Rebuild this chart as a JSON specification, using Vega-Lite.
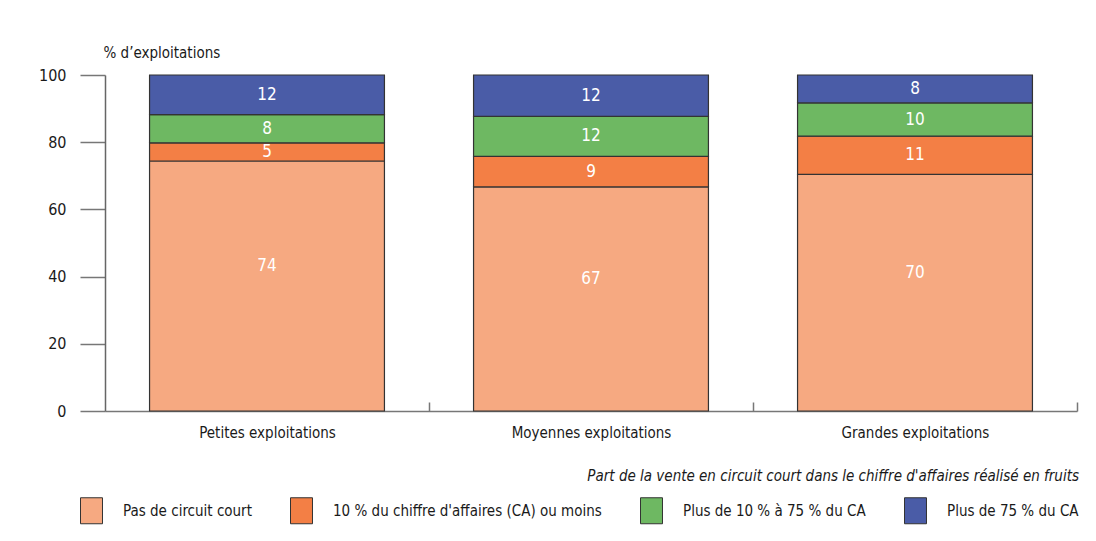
{
  "$schema": "https://vega.github.io/schema/vega-lite/v6.json",
  "width": 972,
  "height": 336,
  "autosize": {"type": "none"},
  "padding": {"left": 105, "top": 75, "right": 19, "bottom": 130},
  "background": "white",
  "config": {
    "font": "'DejaVu Sans Condensed', 'Roboto Condensed', sans-serif",
    "view": {"stroke": null},
    "axis": {
      "labelFont": "'DejaVu Sans Condensed', 'Roboto Condensed', sans-serif",
      "titleFont": "'DejaVu Sans Condensed', 'Roboto Condensed', sans-serif",
      "labelColor": "#1a1a1a",
      "titleColor": "#1a1a1a",
      "labelFontSize": 15,
      "domainColor": "#777777",
      "tickColor": "#777777",
      "domainWidth": 1.5,
      "tickWidth": 1.5,
      "grid": false
    },
    "legend": {
      "labelFont": "'DejaVu Sans Condensed', 'Roboto Condensed', sans-serif",
      "titleFont": "'DejaVu Sans Condensed', 'Roboto Condensed', sans-serif"
    }
  },
  "data": {
    "values": [
      {"taille": "Petites exploitations", "circuit": "Pas de circuit court", "ordre": 1, "pct": 74.4},
      {"taille": "Petites exploitations", "circuit": "10 % du chiffre d'affaires (CA) ou moins", "ordre": 2, "pct": 5.4},
      {"taille": "Petites exploitations", "circuit": "Plus de 10 % à 75 % du CA", "ordre": 3, "pct": 8.4},
      {"taille": "Petites exploitations", "circuit": "Plus de 75 % du CA", "ordre": 4, "pct": 11.8},
      {"taille": "Moyennes exploitations", "circuit": "Pas de circuit court", "ordre": 1, "pct": 66.7},
      {"taille": "Moyennes exploitations", "circuit": "10 % du chiffre d'affaires (CA) ou moins", "ordre": 2, "pct": 9.1},
      {"taille": "Moyennes exploitations", "circuit": "Plus de 10 % à 75 % du CA", "ordre": 3, "pct": 11.9},
      {"taille": "Moyennes exploitations", "circuit": "Plus de 75 % du CA", "ordre": 4, "pct": 12.3},
      {"taille": "Grandes exploitations", "circuit": "Pas de circuit court", "ordre": 1, "pct": 70.4},
      {"taille": "Grandes exploitations", "circuit": "10 % du chiffre d'affaires (CA) ou moins", "ordre": 2, "pct": 11.4},
      {"taille": "Grandes exploitations", "circuit": "Plus de 10 % à 75 % du CA", "ordre": 3, "pct": 9.9},
      {"taille": "Grandes exploitations", "circuit": "Plus de 75 % du CA", "ordre": 4, "pct": 8.3}
    ]
  },
  "encoding": {
    "x": {
      "field": "taille",
      "type": "nominal",
      "sort": ["Petites exploitations", "Moyennes exploitations", "Grandes exploitations"],
      "scale": {"paddingInner": 0.275, "paddingOuter": 0.1375},
      "axis": {
        "title": null,
        "labelAngle": 0,
        "bandPosition": 1,
        "tickOffset": 44.5,
        "labelOffset": -44.5,
        "tickSize": -9,
        "labelPadding": 23,
        "labelBaseline": "top"
      }
    }
  },
  "layer": [
    {
      "mark": {"type": "bar", "stroke": "#333333", "strokeWidth": 1.2},
      "encoding": {
        "y": {
          "field": "pct",
          "type": "quantitative",
          "stack": "zero",
          "scale": {"domain": [0, 100], "nice": false},
          "axis": {
            "title": "% d’exploitations",
            "titleAngle": 0,
            "titleAlign": "left",
            "titleBaseline": "alphabetic",
            "titleX": -2,
            "titleY": -18,
            "titleFontSize": 15,
            "titleFontWeight": "normal",
            "values": [0, 20, 40, 60, 80, 100],
            "tickSize": 25,
            "labelPadding": 14,
            "labelFontSize": 16,
            "domainColor": "#666666"
          }
        },
        "color": {
          "field": "circuit",
          "type": "nominal",
          "sort": ["Pas de circuit court", "10 % du chiffre d'affaires (CA) ou moins", "Plus de 10 % à 75 % du CA", "Plus de 75 % du CA"],
          "scale": {
            "domain": ["Pas de circuit court", "10 % du chiffre d'affaires (CA) ou moins", "Plus de 10 % à 75 % du CA", "Plus de 75 % du CA"],
            "range": ["#F6A981", "#F37F45", "#6EB862", "#4A5CA7"]
          },
          "legend": {
            "title": "Part de la vente en circuit court dans le chiffre d'affaires réalisé en fruits",
            "orient": "none",
            "direction": "horizontal",
            "legendX": -27,
            "legendY": 394,
            "titleAnchor": "end",
            "titleFontStyle": "italic",
            "titleFontWeight": "normal",
            "titleFontSize": 15,
            "titleColor": "#1a1a1a",
            "titleLimit": 1000,
            "titlePadding": 13,
            "labelFontSize": 15,
            "labelColor": "#1a1a1a",
            "labelLimit": 600,
            "labelOffset": 18,
            "columnPadding": 36,
            "symbolType": "M-0.846,-1H0.846V1H-0.846Z",
            "symbolSize": 676,
            "symbolStrokeColor": "#333333",
            "symbolStrokeWidth": 1,
            "symbolOpacity": 1
          }
        },
        "order": {"field": "ordre", "type": "quantitative"}
      }
    },
    {
      "mark": {"type": "text", "color": "white", "fontSize": 17, "baseline": "middle"},
      "encoding": {
        "y": {"field": "pct", "type": "quantitative", "stack": "zero", "bandPosition": 0.5},
        "detail": {"field": "circuit"},
        "order": {"field": "ordre", "type": "quantitative"},
        "text": {
          "condition": {"test": "datum.ordre == 1", "value": ""},
          "field": "pct",
          "type": "quantitative",
          "format": ".0f"
        }
      }
    },
    {
      "transform": [{"filter": "datum.ordre == 1"}],
      "mark": {"type": "text", "color": "white", "fontSize": 17, "baseline": "middle", "dy": -20},
      "encoding": {
        "y": {"field": "pct", "type": "quantitative", "stack": "zero", "bandPosition": 0.5},
        "detail": {"field": "circuit"},
        "text": {"field": "pct", "type": "quantitative", "format": ".0f"}
      }
    }
  ]
}
